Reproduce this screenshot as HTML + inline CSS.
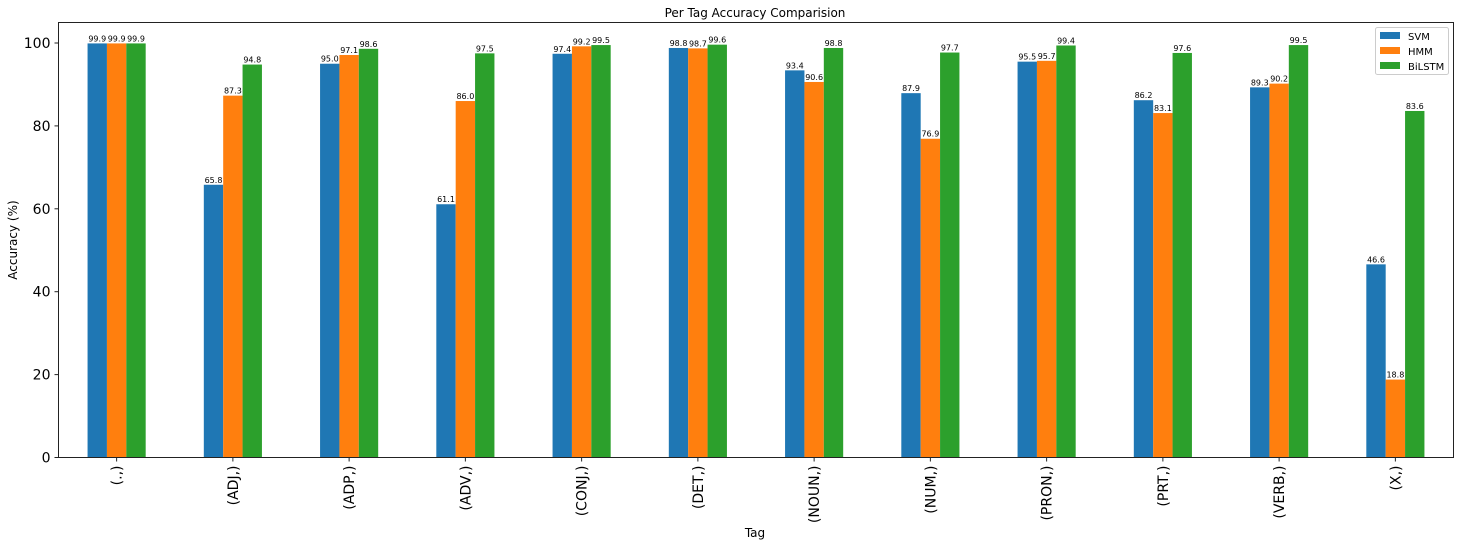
<!DOCTYPE html>
<html><head><meta charset="utf-8"><style>
body{margin:0;background:#fff}
svg{font-family:"DejaVu Sans","Liberation Sans",sans-serif}
</style></head><body>
<svg id="chart" width="1459" height="546" xmlns="http://www.w3.org/2000/svg">
<text x="755" y="17" text-anchor="middle" font-size="12">Per Tag Accuracy Comparision</text>
<text x="755" y="537" text-anchor="middle" font-size="12">Tag</text>
<text transform="translate(17,240) rotate(-90)" text-anchor="middle" font-size="12">Accuracy (%)</text>
<g id="bars"></g><g id="axes"></g>
<g>
<rect x="1375.5" y="27.5" width="73" height="47" fill="#fff" stroke="#ccc" rx="2"/>
<rect x="1380" y="32" width="20" height="7" fill="#1f77b4"/><text x="1408" y="40" font-size="10">SVM</text>
<rect x="1380" y="47" width="20" height="7" fill="#ff7f0e"/><text x="1408" y="55" font-size="10">HMM</text>
<rect x="1380" y="62" width="20" height="7" fill="#2ca02c"/><text x="1408" y="70" font-size="10">BiLSTM</text>
</g>
</svg>
<script>
const categories=["(.,)","(ADJ,)","(ADP,)","(ADV,)","(CONJ,)","(DET,)","(NOUN,)","(NUM,)","(PRON,)","(PRT,)","(VERB,)","(X,)"];
const svmValues=[99.9,65.8,95.0,61.1,97.4,98.8,93.4,87.9,95.5,86.2,89.3,46.6];
const hmmValues=[99.9,87.3,97.1,86.0,99.2,98.7,90.6,76.9,95.7,83.1,90.2,18.8];
const bilstmValues=[99.9,94.8,98.6,97.5,99.5,99.6,98.8,97.7,99.4,97.6,99.5,83.6];
const yTicks=[0,20,40,60,80,100];
const NS="http://www.w3.org/2000/svg";
const L=58.5,R=1453.5,T=22.5,B=457.5;
const step=(R-L)/categories.length;
const xc=i=>L+step*(i+0.5);
const y=v=>B-v*4.145;
const bw=step*0.5/3;
const bars=document.getElementById('bars'),axes=document.getElementById('axes');
function mk(tag,attrs,parent){const e=document.createElementNS(NS,tag);for(const k in attrs)e.setAttribute(k,attrs[k]);parent.appendChild(e);return e;}
const series=[[svmValues,'#1f77b4','svm'],[hmmValues,'#ff7f0e','hmm'],[bilstmValues,'#2ca02c','bilstm']];
series.forEach(([vals,col,nm],s)=>{
 vals.forEach((v,i)=>{
  const x0=xc(i)-1.5*bw+s*bw;
  const r=mk('rect',{x:x0,y:y(v),width:bw,height:B-y(v),fill:col},bars);
  
  
  const t=mk('text',{x:x0+bw/2,y:y(v)-2,'text-anchor':'middle','font-size':'8',fill:'#000'},bars);
  t.textContent=v.toFixed(1);
  
  
 });
});
mk('rect',{x:L,y:T,width:R-L,height:B-T,fill:'none',stroke:'#222','stroke-width':1},axes);
yTicks.forEach(v=>{
 mk('line',{x1:L-4,x2:L,y1:y(v),y2:y(v),stroke:'#222'},axes);
 const t=mk('text',{x:L-8,y:y(v)+5,'text-anchor':'end','font-size':'14'},axes);
 t.textContent=v;
 
 
});
categories.forEach((c,i)=>{
 mk('line',{x1:xc(i),x2:xc(i),y1:B,y2:B+4,stroke:'#222'},axes);
 const t=mk('text',{transform:`translate(${xc(i)+5},${B+8}) rotate(-90)`,'text-anchor':'end','font-size':'14'},axes);
 t.textContent=c;
 
 
});
</script>
</body></html>
